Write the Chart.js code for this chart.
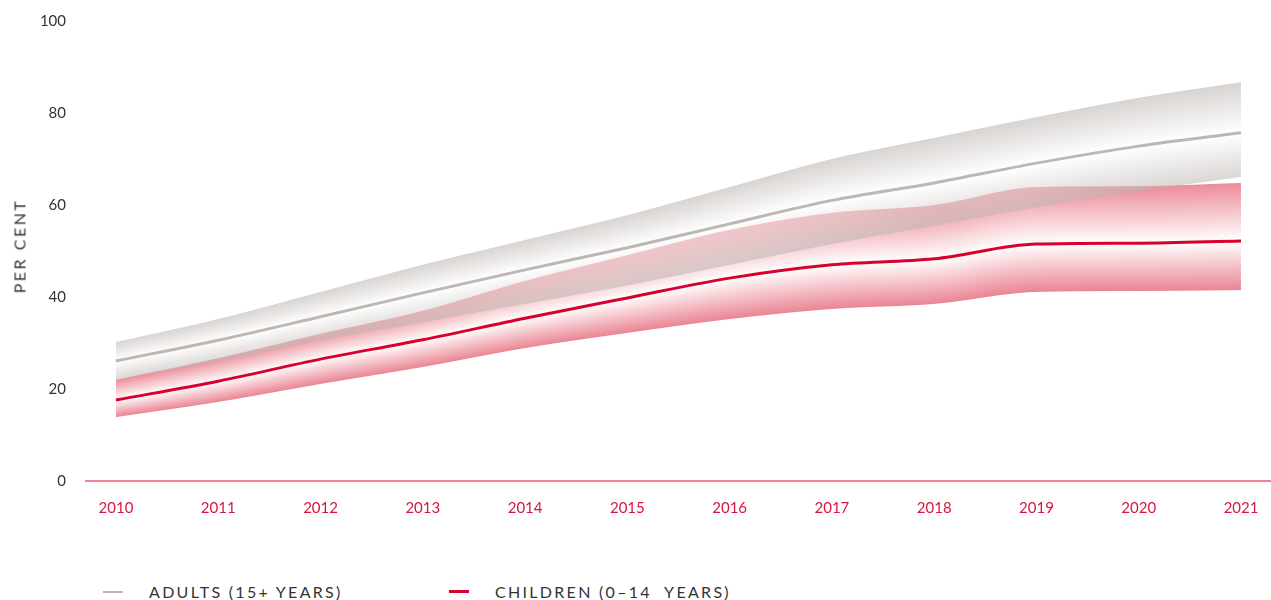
<!DOCTYPE html>
<html>
<head>
<meta charset="utf-8">
<script src="https://cdn.jsdelivr.net/npm/chart.js@4.4.1/dist/chart.umd.min.js"></script>
<style>
  body { margin: 0; background: #fff; font-family: Lato, "Noto Sans", sans-serif; }
  #wrap { position: relative; width: 1271px; height: 600px; }
  #chartBox { position: absolute; left: 0; top: 0; width: 1271px; height: 560px; }
  #yTitle { position: absolute; left: 19px; top: 246px; transform: translate(-50%, -50%) rotate(-90deg);
            font-size: 16px; letter-spacing: 2.5px; color: #333; white-space: nowrap; }
  .leg { position: absolute; top: 582px; height: 20px; font-size: 16px; letter-spacing: 2.3px; color: #333; white-space: pre; }
  .leg i { position: absolute; left: 0; top: 9px; width: 20px; height: 2px; }
  .leg span { position: absolute; left: 46px; top: 0; line-height: 20px; }
</style>
</head>
<body>
<div id="wrap">
  <div id="chartBox"><canvas id="chart"></canvas></div>
  <div id="yTitle">PER CENT</div>
  <div class="leg" style="left:103px"><i style="background:#bfb6b1"></i><span>ADULTS (15+ YEARS)</span></div>
  <div class="leg" style="left:449px"><i style="background:#d8002c;height:3px;top:8px"></i><span>CHILDREN (0–14  YEARS)</span></div>
</div>
<script>
const years = [2010, 2011, 2012, 2013, 2014, 2015, 2016, 2017, 2018, 2019, 2020, 2021];

// adults (15+): estimate and uncertainty bounds
const adultsMid  = [26.1, 30.6, 35.7, 40.9, 45.9, 50.7, 55.9, 61.0, 64.8, 69.1, 72.8, 75.7];
const adultsHigh = [30.2, 35.2, 41.1, 47.0, 52.4, 57.8, 63.9, 70.0, 74.6, 79.1, 83.3, 86.7];
const adultsLow  = [22.0, 26.0, 30.5, 34.5, 38.5, 42.5, 47.0, 51.5, 55.5, 59.5, 63.0, 66.1];

// children (0-14): estimate and uncertainty bounds
const childrenMid  = [17.6, 21.7, 26.5, 30.7, 35.4, 39.8, 44.1, 47.0, 48.3, 51.5, 51.7, 52.2];
const childrenHigh = [22.0, 26.7, 32.0, 37.0, 43.5, 49.1, 54.6, 58.3, 60.0, 63.9, 64.1, 64.8];
const childrenLow  = [13.9, 17.2, 21.1, 24.8, 28.9, 32.2, 35.2, 37.4, 38.5, 41.1, 41.3, 41.5];

const yTicks = [0, 20, 40, 60, 80, 100];

const pts = arr => years.map((yr, i) => ({ x: yr, y: arr[i] }));

function edge(label, arr) {
  return { label: label, data: pts(arr), showLine: false, pointRadius: 0, borderWidth: 0 };
}

// draws each uncertainty band column by column, edge colour fading to white at the estimate line
const bandPlugin = {
  id: 'bands',
  beforeDatasetsDraw(chart) {
    const ctx = chart.ctx;
    const area = chart.chartArea;
    const line = i => {
      const el = chart.getDatasetMeta(i).dataset;
      el.updateControlPoints(area, 'x');
      return el;
    };
    const x0 = Math.round(chart.scales.x.getPixelForValue(years[0]));
    const x1 = Math.round(chart.scales.x.getPixelForValue(years[years.length - 1]));
    // children first, adults laid over it partly see-through
    const bands = [
      { hi: 4, mid: 1, lo: 5, top: '#ec8c98', bottom: '#ea8593', alpha: 1 },
      { hi: 2, mid: 0, lo: 3, top: '#b7b0ac', bottom: '#bbb5b1', alpha: 0.55 }
    ];
    ctx.save();
    bands.forEach(b => {
      const hi = line(b.hi), mid = line(b.mid), lo = line(b.lo);
      ctx.globalAlpha = b.alpha;
      for (let px = x0; px < x1; px++) {
        const x = px + 0.5;
        const ph = hi.interpolate({ x: x }, 'x');
        const pm = mid.interpolate({ x: x }, 'x');
        const pl = lo.interpolate({ x: x }, 'x');
        if (!ph || !pm || !pl) continue;
        const yh = ph.y, yl = pl.y;
        let t = (pm.y - yh) / (yl - yh);
        t = Math.min(Math.max(t, 0.02), 0.98);
        const g = ctx.createLinearGradient(0, yh, 0, yl);
        g.addColorStop(0, b.top);
        g.addColorStop(t, '#ffffff');
        g.addColorStop(1, b.bottom);
        ctx.fillStyle = g;
        ctx.fillRect(px, yh, 1, yl - yh);
      }
    });
    ctx.restore();
  }
};

const tickFont = { family: 'Lato, "Noto Sans", sans-serif', size: 15 };

new Chart(document.getElementById('chart'), {
  type: 'line',
  data: {
    datasets: [
      { label: 'ADULTS (15+ YEARS)', data: pts(adultsMid), borderColor: '#bfb6b1', borderWidth: 3, pointRadius: 0 },
      { label: 'CHILDREN (0–14 YEARS)', data: pts(childrenMid), borderColor: '#d8002c', borderWidth: 3, pointRadius: 0 },
      edge('adults upper', adultsHigh),
      edge('adults lower', adultsLow),
      edge('children upper', childrenHigh),
      edge('children lower', childrenLow)
    ]
  },
  options: {
    responsive: true,
    maintainAspectRatio: false,
    animation: false,
    datasets: { line: { cubicInterpolationMode: 'monotone' } },
    layout: { padding: { top: 21, right: 0, left: 0, bottom: 0 } },
    plugins: { legend: { display: false }, tooltip: { enabled: false } },
    scales: {
      x: {
        type: 'linear',
        min: 2009.707,
        max: 2021.293,
        afterBuildTicks: s => { s.ticks = years.map(v => ({ value: v })); },
        afterFit: s => { s.height = 79; s.paddingLeft = 0; s.paddingRight = 0; },
        grid: { display: false, drawTicks: false },
        border: { display: true, color: '#ef8293', width: 2 },
        ticks: { color: '#d5173d', font: tickFont, padding: 18, maxRotation: 0, callback: v => String(v) }
      },
      y: {
        min: 0,
        max: 100,
        afterBuildTicks: s => { s.ticks = yTicks.map(v => ({ value: v })); },
        afterFit: s => { s.width = 86; s.paddingTop = 0; s.paddingBottom = 0; },
        grid: { display: false, drawTicks: false },
        border: { display: false },
        ticks: { color: '#333333', font: tickFont, padding: 20 }
      }
    }
  },
  plugins: [bandPlugin]
});
</script>
</body>
</html>
